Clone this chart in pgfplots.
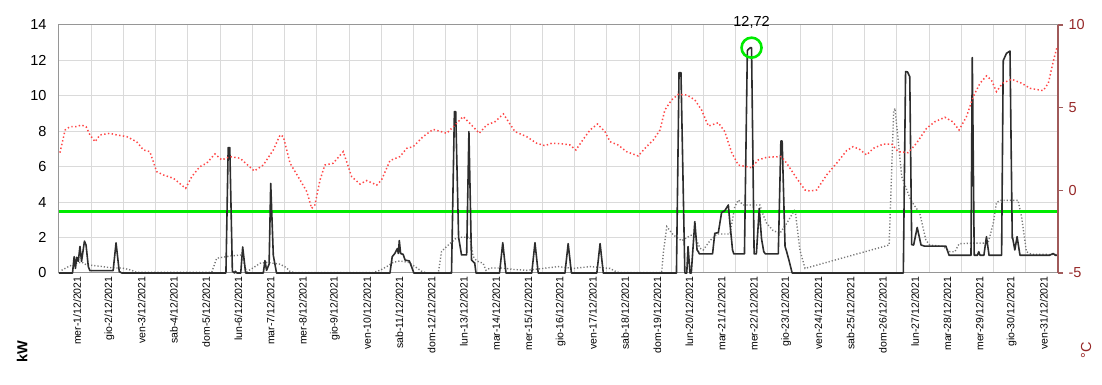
\documentclass[border=0pt]{standalone}
\usepackage{fontspec}
\setmainfont{Liberation Sans}
\usepackage{pgfplots}
\pgfplotsset{compat=1.18}
\definecolor{blk}{RGB}{45,45,45}
\definecolor{gry}{RGB}{120,120,120}
\definecolor{tred}{RGB}{255,70,70}
\definecolor{lgreen}{RGB}{0,235,0}
\definecolor{gridc}{RGB}{218,218,218}
\definecolor{framec}{RGB}{150,150,150}
\definecolor{rax}{RGB}{160,90,90}
\definecolor{rlab}{RGB}{150,40,40}
\begin{document}
\begin{tikzpicture}
\begin{axis}[name=kw, scale only axis, width=999pt, height=248pt,
  xmin=0, xmax=31, ymin=0, ymax=14,
  ytick={0,2,...,14},
  xtick={0.44,1.44,...,30.44},
  xticklabels={mer-1/12/2021,gio-2/12/2021,ven-3/12/2021,sab-4/12/2021,dom-5/12/2021,lun-6/12/2021,mar-7/12/2021,mer-8/12/2021,gio-9/12/2021,ven-10/12/2021,sab-11/12/2021,dom-12/12/2021,lun-13/12/2021,mar-14/12/2021,mer-15/12/2021,gio-16/12/2021,ven-17/12/2021,sab-18/12/2021,dom-19/12/2021,lun-20/12/2021,mar-21/12/2021,mer-22/12/2021,gio-23/12/2021,ven-24/12/2021,sab-25/12/2021,dom-26/12/2021,lun-27/12/2021,mar-28/12/2021,mer-29/12/2021,gio-30/12/2021,ven-31/12/2021},
  x tick label style={rotate=90, anchor=east, font=\fontsize{10.5}{12}\selectfont, yshift=-4pt},
  y tick label style={font=\fontsize{14.5}{16}\selectfont, xshift=-9pt},
  minor xtick={1,2,...,30},
  xminorgrids=true, ymajorgrids=true, xmajorgrids=false,
  grid style={gridc, line width=1pt},
  minor grid style={gridc, line width=1pt},
  major tick length=0pt, minor tick length=0pt,
  axis line style={framec, line width=1pt},
  /pgf/number format/assume math mode=true,
  clip=false]
\addplot[gry, line width=1.4pt, dash pattern=on 1.2pt off 2pt] table {
0.08 0.15
0.29 0.36
0.47 0.50
0.70 0.62
0.84 0.47
1.27 0.38
1.68 0.28
1.97 0.28
2.26 0.15
2.40 0.04
4.74 0.04
4.89 0.83
5.31 0.96
5.67 1.02
5.82 0.06
6.03 0.30
6.24 0.55
6.44 0.60
6.86 0.50
7.06 0.30
7.17 0.08
7.30 0.03
9.75 0.03
9.96 0.15
10.17 0.36
10.37 0.60
10.58 0.68
10.84 0.60
11.05 0.36
11.25 0.10
11.41 0.00
11.77 0.00
11.87 1.21
12.03 1.50
12.29 1.92
12.44 2.02
12.75 2.02
12.85 0.94
12.96 0.68
13.16 0.55
13.25 0.15
13.37 0.28
13.77 0.28
14.10 0.20
14.51 0.15
15.03 0.26
15.49 0.36
15.96 0.26
16.48 0.36
17.10 0.26
17.30 0.06
17.40 0.02
18.70 0.02
18.75 1.10
18.86 2.62
19.06 2.15
19.32 1.82
19.58 2.10
19.70 2.20
19.89 1.40
19.99 1.30
20.20 1.82
20.41 2.20
20.82 2.20
20.97 3.74
21.08 4.12
21.23 3.84
21.75 3.84
21.85 3.28
21.96 2.80
22.16 2.39
22.37 2.24
22.58 2.80
22.84 3.60
22.99 1.30
23.15 0.26
25.76 1.58
25.90 9.10
25.94 9.30
26.04 7.50
26.15 5.44
26.43 4.12
26.71 3.37
26.90 1.86
27.02 1.58
27.44 1.50
27.65 1.20
27.80 1.20
27.93 1.65
28.37 1.69
28.83 1.69
28.99 2.80
29.09 3.97
29.20 4.10
29.76 4.10
29.87 3.17
30.02 1.20
30.17 1.06
31.00 1.04
};
\addplot[lgreen, line width=3pt] coordinates {(0,3.47) (31,3.47)};
\addplot[blk, line width=1.6pt, line join=round] table {
0 0
0.42 0
0.47 0.92
0.51 0.26
0.55 0.89
0.60 0.66
0.65 1.50
0.70 0.66
0.79 1.80
0.84 1.57
0.91 0.36
0.96 0.13
1.68 0.13
1.77 1.70
1.87 0.08
1.95 0
5.18 0
5.25 7.08
5.30 7.08
5.38 0.10
5.45 0
5.47 0.10
5.52 0
5.64 0
5.70 1.47
5.79 0
6.34 0
6.39 0.70
6.44 0.15
6.52 0.50
6.57 5.06
6.65 1.00
6.75 0
10.27 0
10.34 0.92
10.42 1.10
10.50 1.38
10.53 1.10
10.56 1.83
10.60 1.10
10.68 1.05
10.74 0.73
10.87 0.68
10.94 0.36
11.01 0
12.18 0
12.27 9.11
12.31 9.11
12.40 2.00
12.44 1.58
12.49 1.02
12.65 1.02
12.72 7.98
12.80 0.73
12.90 0.56
12.94 0
13.67 0
13.77 1.71
13.87 0
14.67 0
14.77 1.71
14.87 0
15.70 0
15.80 1.66
15.90 0
16.69 0
16.79 1.66
16.89 0
19.16 0
19.24 11.31
19.30 11.31
19.42 0
19.48 0
19.52 1.49
19.58 0
19.62 0
19.73 2.90
19.80 1.30
19.84 1.20
19.87 1.08
20.28 1.08
20.35 2.24
20.46 2.28
20.56 3.41
20.66 3.52
20.77 3.84
20.82 2.80
20.90 1.30
20.94 1.08
21.27 1.08
21.36 12.55
21.38 12.60
21.45 12.72
21.49 12.72
21.57 1.08
21.64 1.08
21.73 3.65
21.80 1.93
21.87 1.20
21.92 1.08
22.32 1.08
22.40 7.45
22.44 7.45
22.53 1.50
22.58 1.20
22.65 0.73
22.75 0
26.20 0
26.27 11.37
26.33 11.35
26.40 11.08
26.46 1.60
26.52 1.58
26.63 2.57
26.66 2.33
26.75 1.58
26.85 1.52
27.52 1.52
27.62 1.00
28.30 1.00
28.34 12.16
28.40 1.00
28.50 1.00
28.54 1.20
28.58 1.00
28.70 1.00
28.78 2.05
28.86 1.00
29.25 1.00
29.30 11.99
29.40 12.40
29.51 12.53
29.58 1.96
29.59 2.00
29.66 1.30
29.73 2.05
29.82 1.00
30.74 1.00
30.85 1.10
30.92 1.00
31.00 1.00
};
\addplot[only marks, mark=o, mark size=10pt, lgreen, line width=2.6pt] coordinates {(21.49,12.72)};
\node[font=\fontsize{14.5}{16}\selectfont, yshift=25pt] at (axis cs:21.49,12.72) {12,72};
\end{axis}
\begin{axis}[at={(kw.south west)}, anchor=south west, scale only axis, width=999pt, height=248pt,
  xmin=0, xmax=31, ymin=-5, ymax=10,
  axis y line*=right, axis x line=none,
  ytick={-5,0,5,10},
  y axis line style={rax, line width=1.2pt},
  ytick style={rax, line width=1.2pt},
  tick align=outside, major tick length=5pt,
  y tick label style={rlab, font=\fontsize{14.5}{16}\selectfont, xshift=2pt},
  /pgf/number format/assume math mode=true]
\addplot[tred, line width=1.5pt, dash pattern=on 1.4pt off 2.4pt] table {
0.03 2.28
0.19 3.65
0.34 3.85
0.52 3.85
0.70 3.95
0.84 3.85
0.96 3.35
1.12 2.94
1.27 3.35
1.58 3.45
1.79 3.35
2.10 3.25
2.41 2.94
2.62 2.44
2.82 2.34
3.03 1.13
3.24 0.93
3.55 0.73
3.93 0.12
4.12 0.83
4.37 1.43
4.58 1.64
4.84 2.20
5.05 1.84
5.31 2.04
5.62 1.94
6.06 1.17
6.34 1.53
6.65 2.44
6.86 3.35
6.96 3.25
7.17 1.64
7.48 0.63
7.69 -0.08
7.84 -1.09
7.94 -0.89
8.10 0.63
8.25 1.53
8.51 1.64
8.82 2.34
9.08 0.83
9.34 0.38
9.55 0.59
9.86 0.32
10.01 0.63
10.27 1.80
10.58 2.04
10.79 2.54
10.99 2.64
11.30 3.25
11.61 3.69
12.03 3.45
12.29 3.95
12.54 4.46
12.80 3.95
13.04 3.45
13.27 3.95
13.53 4.15
13.79 4.62
14.15 3.55
14.51 3.25
14.82 2.85
15.08 2.70
15.29 2.85
15.65 2.80
15.85 2.75
16.04 2.44
16.27 3.09
16.48 3.65
16.71 4.01
16.94 3.55
17.10 2.94
17.35 2.74
17.61 2.34
17.97 2.08
18.23 2.64
18.44 3.04
18.65 3.65
18.80 4.86
19.01 5.47
19.22 5.81
19.48 5.77
19.73 5.47
19.94 4.86
20.15 3.89
20.46 4.09
20.66 3.55
20.87 2.30
21.08 1.53
21.49 1.37
21.70 1.84
21.96 2.00
22.42 2.04
22.58 1.64
22.89 0.73
23.15 0.02
23.30 -0.04
23.51 0.02
23.82 0.93
24.13 1.64
24.44 2.40
24.64 2.64
24.83 2.50
25.06 2.14
25.27 2.54
25.58 2.80
25.84 2.80
26.04 2.34
26.35 2.28
26.61 2.85
26.92 3.75
27.18 4.15
27.49 4.42
27.73 4.15
27.93 3.65
28.16 4.46
28.37 5.67
28.58 6.48
28.78 6.92
28.93 6.68
29.09 5.97
29.28 6.48
29.56 6.72
29.87 6.48
30.13 6.17
30.54 6.03
30.70 6.48
30.85 7.78
30.96 8.59
};
\end{axis}
\node[rotate=90, font=\bfseries\fontsize{14.5}{16}\selectfont] at ([shift={(-37pt,-79pt)}]kw.south west) {kW};
\node[rotate=90, text=rlab, font=\fontsize{14.5}{16}\selectfont] at ([shift={(1027pt,-77pt)}]kw.south west) {°C};
\pgfresetboundingbox
\path[use as bounding box] ([shift={(-59pt,-112pt)}]kw.south west) rectangle ([shift={(1043pt,273pt)}]kw.south west);
\end{tikzpicture}
\end{document}
